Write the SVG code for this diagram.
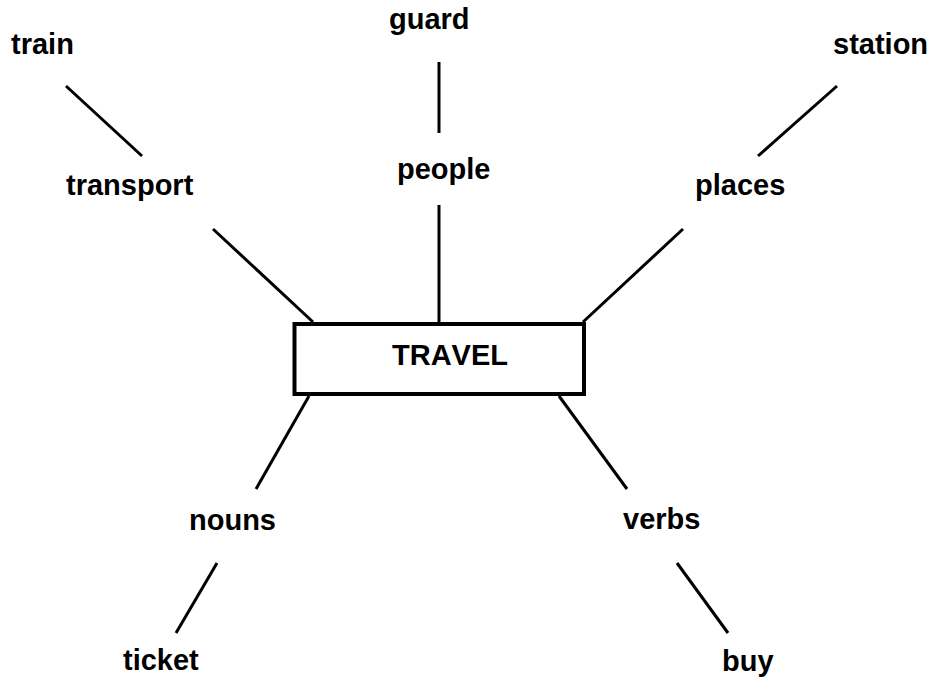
<svg xmlns="http://www.w3.org/2000/svg" width="934" height="681" viewBox="0 0 934 681">
<style>
text { font-family: "Liberation Sans", Arial, sans-serif; font-weight: bold; font-size: 29px; fill: #000; font-kerning: none; }
.c line { stroke: #000; stroke-width: 3; }
.box { fill: #fff; stroke: #000; stroke-width: 4; }
</style>
<rect width="934" height="681" fill="#fff"/>
<g id="connectors" class="c">
<line x1="66" y1="86" x2="142" y2="156"/>
<line x1="213" y1="229" x2="313" y2="322"/>
<line x1="439" y1="62" x2="439" y2="133"/>
<line x1="439" y1="205" x2="439" y2="322"/>
<line x1="837" y1="86" x2="758" y2="156"/>
<line x1="683" y1="229" x2="583" y2="322"/>
<line x1="309" y1="396" x2="256" y2="489"/>
<line x1="217" y1="563" x2="176" y2="633"/>
<line x1="559" y1="396" x2="627" y2="489"/>
<line x1="677" y1="563" x2="728" y2="633"/>
</g>
<g id="travel">
<rect class="box" x="294.5" y="324" width="289.5" height="70"/>
<text x="392" y="365">TRAVEL</text>
</g>
<g id="train"><text x="11" y="54">train</text></g>
<g id="transport"><text x="66" y="195">transport</text></g>
<g id="guard"><text x="389" y="29">guard</text></g>
<g id="people"><text x="397" y="179">people</text></g>
<g id="station"><text x="833" y="54">station</text></g>
<g id="places"><text x="695" y="195">places</text></g>
<g id="nouns"><text x="189" y="530">nouns</text></g>
<g id="ticket"><text x="123" y="670">ticket</text></g>
<g id="verbs"><text x="623" y="529">verbs</text></g>
<g id="buy"><text x="722" y="671">buy</text></g>
</svg>
